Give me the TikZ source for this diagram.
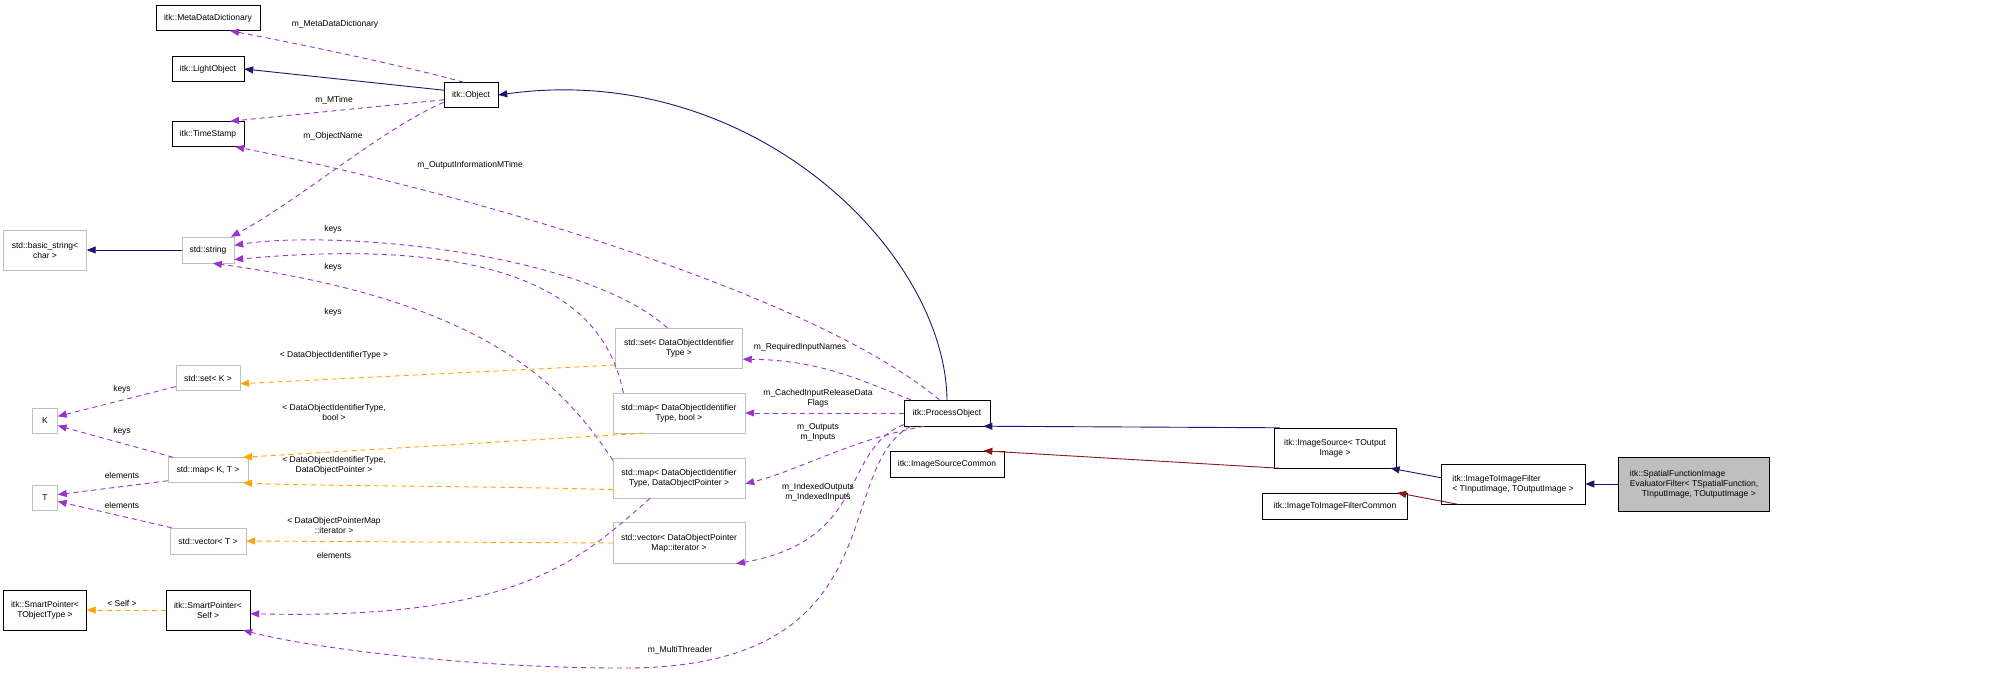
\documentclass[tikz,border=0pt]{standalone}
\usepackage{fontspec}
\setmainfont{Liberation Sans}
\usetikzlibrary{arrows.meta}
\definecolor{navy}{HTML}{191970}
\definecolor{orchid}{HTML}{9A32CD}
\definecolor{tmpl}{HTML}{FFA500}
\definecolor{dred}{HTML}{8B1A1A}
\definecolor{undoc}{HTML}{BFBFBF}
\begin{document}
\begin{tikzpicture}[x=1pt, y=-1pt, scale=0.5, every node/.append style={transform shape},
font=\fontsize{8.5}{10}\selectfont,
cls/.style = {rectangle, draw=black, line width=0.45pt, inner sep=0pt, align=center},
ext/.style = {cls, draw=undoc},
lbl/.style = {inner sep=0pt, align=center},
inh/.style = {navy, line width=0.45pt, -{Triangle[length=4.5pt,width=3.5pt]}},
priv/.style = {dred, line width=0.45pt, -{Triangle[length=4.5pt,width=3.5pt]}},
use/.style = {orchid, line width=0.45pt, dash pattern=on 2.5pt off 2pt, -{Triangle[length=4.5pt,width=3.5pt]}},
inst/.style = {tmpl, line width=0.45pt, dash pattern=on 2.5pt off 2pt, -{Triangle[length=4.5pt,width=3.5pt]}}]
\useasboundingbox (0,0) rectangle (2016,678);

% classes
\node [cls, minimum width=104pt, minimum height=25pt] (mdd) at (208,18) {itk::MetaDataDictionary};
\node [cls, minimum width=72pt, minimum height=25pt] (lo) at (208,69) {itk::LightObject};
\node [cls, minimum width=72pt, minimum height=25pt] (ts) at (208,134) {itk::TimeStamp};
\node [cls, minimum width=54pt, minimum height=25pt] (obj) at (471,95) {itk::Object};
\node [ext, minimum width=83pt, minimum height=40pt] (bstr) at (45,250) {std::basic\_string<\\char >};
\node [ext, minimum width=52pt, minimum height=26pt] (str) at (208,250) {std::string};
\node [ext, minimum width=64pt, minimum height=25pt] (setk) at (208,378) {std::set< K >};
\node [ext, minimum width=25pt, minimum height=25pt] (k) at (45,421) {K};
\node [ext, minimum width=80pt, minimum height=25pt] (mapkt) at (208,470) {std::map< K, T >};
\node [ext, minimum width=25pt, minimum height=25pt] (t) at (45,498) {T};
\node [ext, minimum width=76pt, minimum height=26pt] (vect) at (208,541) {std::vector< T >};
\node [cls, minimum width=83pt, minimum height=40pt] (spo) at (45,610) {itk::SmartPointer<\\TObjectType >};
\node [cls, minimum width=84pt, minimum height=40pt] (sps) at (208,610) {itk::SmartPointer<\\Self >};
\node [ext, minimum width=127pt, minimum height=40pt] (setid) at (679,348) {std::set< DataObjectIdentifier\\Type >};
\node [ext, minimum width=132pt, minimum height=40pt] (mapb) at (679,413) {std::map< DataObjectIdentifier\\Type, bool >};
\node [ext, minimum width=132pt, minimum height=40pt] (mapp) at (679,478) {std::map< DataObjectIdentifier\\Type, DataObjectPointer >};
\node [ext, minimum width=132pt, minimum height=41pt] (vecp) at (679,543) {std::vector< DataObjectPointer\\Map::iterator >};
\node [cls, minimum width=86pt, minimum height=26pt] (po) at (947,413) {itk::ProcessObject};
\node [cls, minimum width=114pt, minimum height=26pt] (isc) at (947,464) {itk::ImageSourceCommon};
\node [cls, minimum width=122pt, minimum height=40pt] (is) at (1335,448) {itk::ImageSource< TOutput\\Image >};
\node [cls, minimum width=145pt, minimum height=26pt] (itic) at (1335,506) {itk::ImageToImageFilterCommon};
\node [cls, minimum width=144pt, minimum height=40pt, align=left] (iti) at (1513,484) {itk::ImageToImageFilter\\< TInputImage, TOutputImage >};
\node [cls, fill=undoc, minimum width=151pt, minimum height=54pt, align=left] (sfie) at (1694,484) {itk::SpatialFunctionImage\\EvaluatorFilter< TSpatialFunction,\\\hspace*{1.4em}TInputImage, TOutputImage >};

% inheritance
\draw [inh] (sfie) -- (iti);
\draw [inh] (iti.175) -- (is.-20);
\draw [priv] (iti.200) -- (itic.12);
\draw [inh] (is.160) -- (po.-20);
\draw [priv] (is.200) -- (isc.20);
\draw [inh] (po.north) .. controls (945,250) and (750,60) .. (obj.east);
\draw [inh] (obj.170) -- (lo.east);
\draw [inh] (str) -- (bstr);

% usage
\draw [use] (obj.120) .. controls (420,70) and (330,50) .. (mdd.-30);
\draw [use] (obj.190) -- (ts.30);
\draw [use] (obj.-165) .. controls (380,130) and (300,200) .. (str.30);
\draw [use] (po.120) .. controls (820,300) and (500,200) .. (ts.-25);
\draw [use] (setid.120) .. controls (580,250) and (330,230) .. (str.10);
\draw [use] (mapb.160) .. controls (610,330) and (560,230) .. (str.-20);
\draw [use] (mapp.165) .. controls (560,380) and (480,300) .. (str.-70);
\draw [use] (po.160) .. controls (860,380) and (820,360) .. (setid.-10);
\draw [use] (po) -- (mapb);
\draw [use] (po.-150) .. controls (850,440) and (800,470) .. (mapp.-5);
\draw [use] (po.-165) .. controls (840,450) and (870,540) .. (vecp.-20);
\draw [use] (po.-160) .. controls (830,470) and (900,670) .. (620,668) .. controls (480,668) and (320,650) .. (sps.-30);
\draw [use] (mapp.-145) .. controls (580,560) and (520,620) .. (sps.-5);
\draw [use] (setk.-165) -- (k.20);
\draw [use] (mapkt.160) -- (k.-20);
\draw [use] (mapkt.-165) -- (t.15);
\draw [use] (vect.160) -- (t.-15);

% template instances
\draw [inst] (setid.-165) -- (setk.-10);
\draw [inst] (mapb.-150) -- (mapkt.20);
\draw [inst] (mapp.-170) .. controls (500,486) and (300,486) .. (mapkt.-20);
\draw [inst] (vecp.west) -- (vect.east);
\draw [inst] (sps) -- (spo);

% labels
\node [lbl] (l1) at (335,24) {m\_MetaDataDictionary};
\node [lbl] (l2) at (334,100) {m\_MTime};
\node [lbl] (l3) at (333,136) {m\_ObjectName};
\node [lbl] (l4) at (470,165) {m\_OutputInformationMTime};
\node [lbl] (l5) at (333,229) {keys};
\node [lbl] (l6) at (333,267) {keys};
\node [lbl] (l7) at (333,312) {keys};
\node [lbl] (l8) at (800,347) {m\_RequiredInputNames};
\node [lbl] (l9) at (818,398) {m\_CachedInputReleaseData\\Flags};
\node [lbl] (l10) at (818,432) {m\_Outputs\\m\_Inputs};
\node [lbl] (l11) at (818,492) {m\_IndexedOutputs\\m\_IndexedInputs};
\node [lbl] (l12) at (680,650) {m\_MultiThreader};
\node [lbl] (l13) at (334,355) {< DataObjectIdentifierType >};
\node [lbl] (l14) at (334,412) {< DataObjectIdentifierType,\\bool >};
\node [lbl] (l15) at (334,465) {< DataObjectIdentifierType,\\DataObjectPointer >};
\node [lbl] (l16) at (334,525) {< DataObjectPointerMap\\::iterator >};
\node [lbl] (l17) at (334,555) {elements};
\node [lbl] (l18) at (122,603) {< Self >};
\node [lbl] (l19) at (122,389) {keys};
\node [lbl] (l20) at (122,431) {keys};
\node [lbl] (l21) at (122,475) {elements};
\node [lbl] (l22) at (122,505) {elements};
\end{tikzpicture}
\end{document}
